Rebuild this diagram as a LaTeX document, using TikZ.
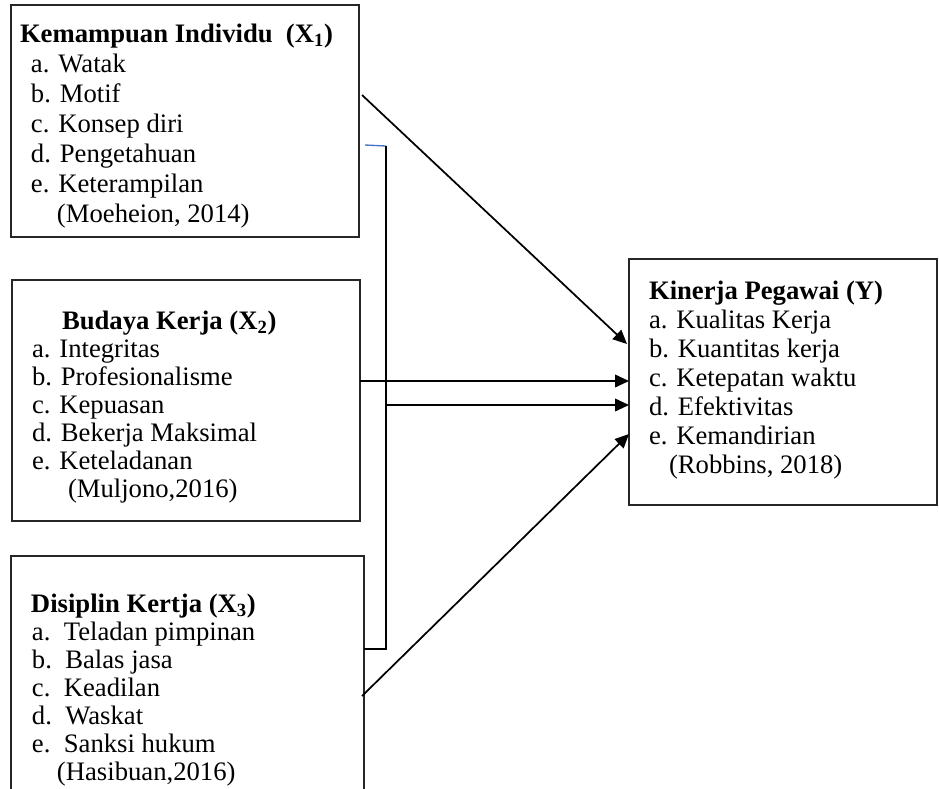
\documentclass[tikz,border=0pt]{standalone}
\usepackage{fontspec}
\setmainfont{Liberation Serif}
\usetikzlibrary{arrows.meta,calc}
\definecolor{wordblue}{HTML}{4472C4}
\begin{document}
\begin{tikzpicture}[x=0.75pt,y=-0.75pt,
  box/.style={draw=black!85,line width=1.1pt,inner sep=0pt,outer sep=0pt,anchor=north west},
  txt/.style={anchor=base west,align=left,inner sep=0pt,outer sep=0pt},
  conn/.style={line width=1.3pt},
  arr/.style={conn,-{Triangle[length=10.5pt,width=9.5pt]}}]
\useasboundingbox (0,0) rectangle (939,789);
% boxes
\node[box,minimum width=261pt,minimum height=174pt] (b1) at (11,5) {};
\node[box,minimum width=261pt,minimum height=180.75pt] (b2) at (12,280) {};
\node[box,minimum width=264.75pt,minimum height=190pt] (b3) at (11,556) {};
\node[box,minimum width=231pt,minimum height=184.5pt] (bY) at (629,259) {};
% texts (anchored at the baseline of their last line)
\node[txt,font=\fontsize{20pt}{22.5pt}\selectfont] (t1) at (20,222)
 {\textbf{Kemampuan Individu\ \ (X\textsubscript{1})}\\
  \hspace*{8.25pt}a. Watak\\
  \hspace*{8.25pt}b. Motif\\
  \hspace*{8.25pt}c. Konsep diri\\
  \hspace*{8.25pt}d. Pengetahuan\\
  \hspace*{8.25pt}e. Keterampilan\\
  \hspace*{27.75pt}(Moeheion, 2014)};
\node[txt,font=\fontsize{20pt}{21pt}\selectfont] (t2) at (32,497)
 {\hspace*{22.5pt}\textbf{Budaya Kerja (X\textsubscript{2})}\\
  a. Integritas\\
  b. Profesionalisme\\
  c. Kepuasan\\
  d. Bekerja Maksimal\\
  e. Keteladanan\\
  \hspace*{27pt}(Muljono,2016)};
\node[txt,font=\fontsize{20pt}{21pt}\selectfont] (t3) at (31,780)
 {\textbf{Disiplin Kertja (X\textsubscript{3})}\\
  \hspace*{0.75pt}a.\ \ Teladan pimpinan\\
  \hspace*{0.75pt}b.\ \ Balas jasa\\
  \hspace*{0.75pt}c.\ \ Keadilan\\
  \hspace*{0.75pt}d.\ \ Waskat\\
  \hspace*{0.75pt}e.\ \ Sanksi hukum\\
  \hspace*{19.5pt}(Hasibuan,2016)};
\node[txt,font=\fontsize{20pt}{21.75pt}\selectfont] (tY) at (649,473)
 {\textbf{Kinerja Pegawai (Y)}\\
  a. Kualitas Kerja\\
  b. Kuantitas kerja\\
  c. Ketepatan waktu\\
  d. Efektivitas\\
  e. Kemandirian\\
  \hspace*{15pt}(Robbins, 2018)};
% connector points
\coordinate (s1) at ($(b1.north east)+(3,90)$);
\coordinate (e1) at ($(bY.north west)+(-2,85)$);
\coordinate (e2) at ($(bY.north west)+(0,122)$);
\coordinate (e3) at ($(bY.north west)+(0,146)$);
\coordinate (e4) at ($(bY.north west)+(0,175)$);
\coordinate (s2) at ($(b2.north east)+(0,101)$);
\coordinate (bl) at ($(b1.north east)+(6,140)$);
\coordinate (vt) at (386,146);
\coordinate (vb) at ($(b3.north east)+(22,93)$);
\coordinate (hb) at ($(b3.north east)+(0,93)$);
\coordinate (s4) at ($(b3.north east)+(-2,140)$);
% connectors
\draw[arr] (s1) -- (e1);
\draw[arr] (s2) -- (e2);
\draw[arr] (vt |- e3) -- (e3);
\draw[arr] (s4) -- (e4);
\draw[conn,wordblue,line width=1pt] (bl) -- (vt);
\draw[conn] (vt) -- (vb) -- (hb);
\end{tikzpicture}
\end{document}
